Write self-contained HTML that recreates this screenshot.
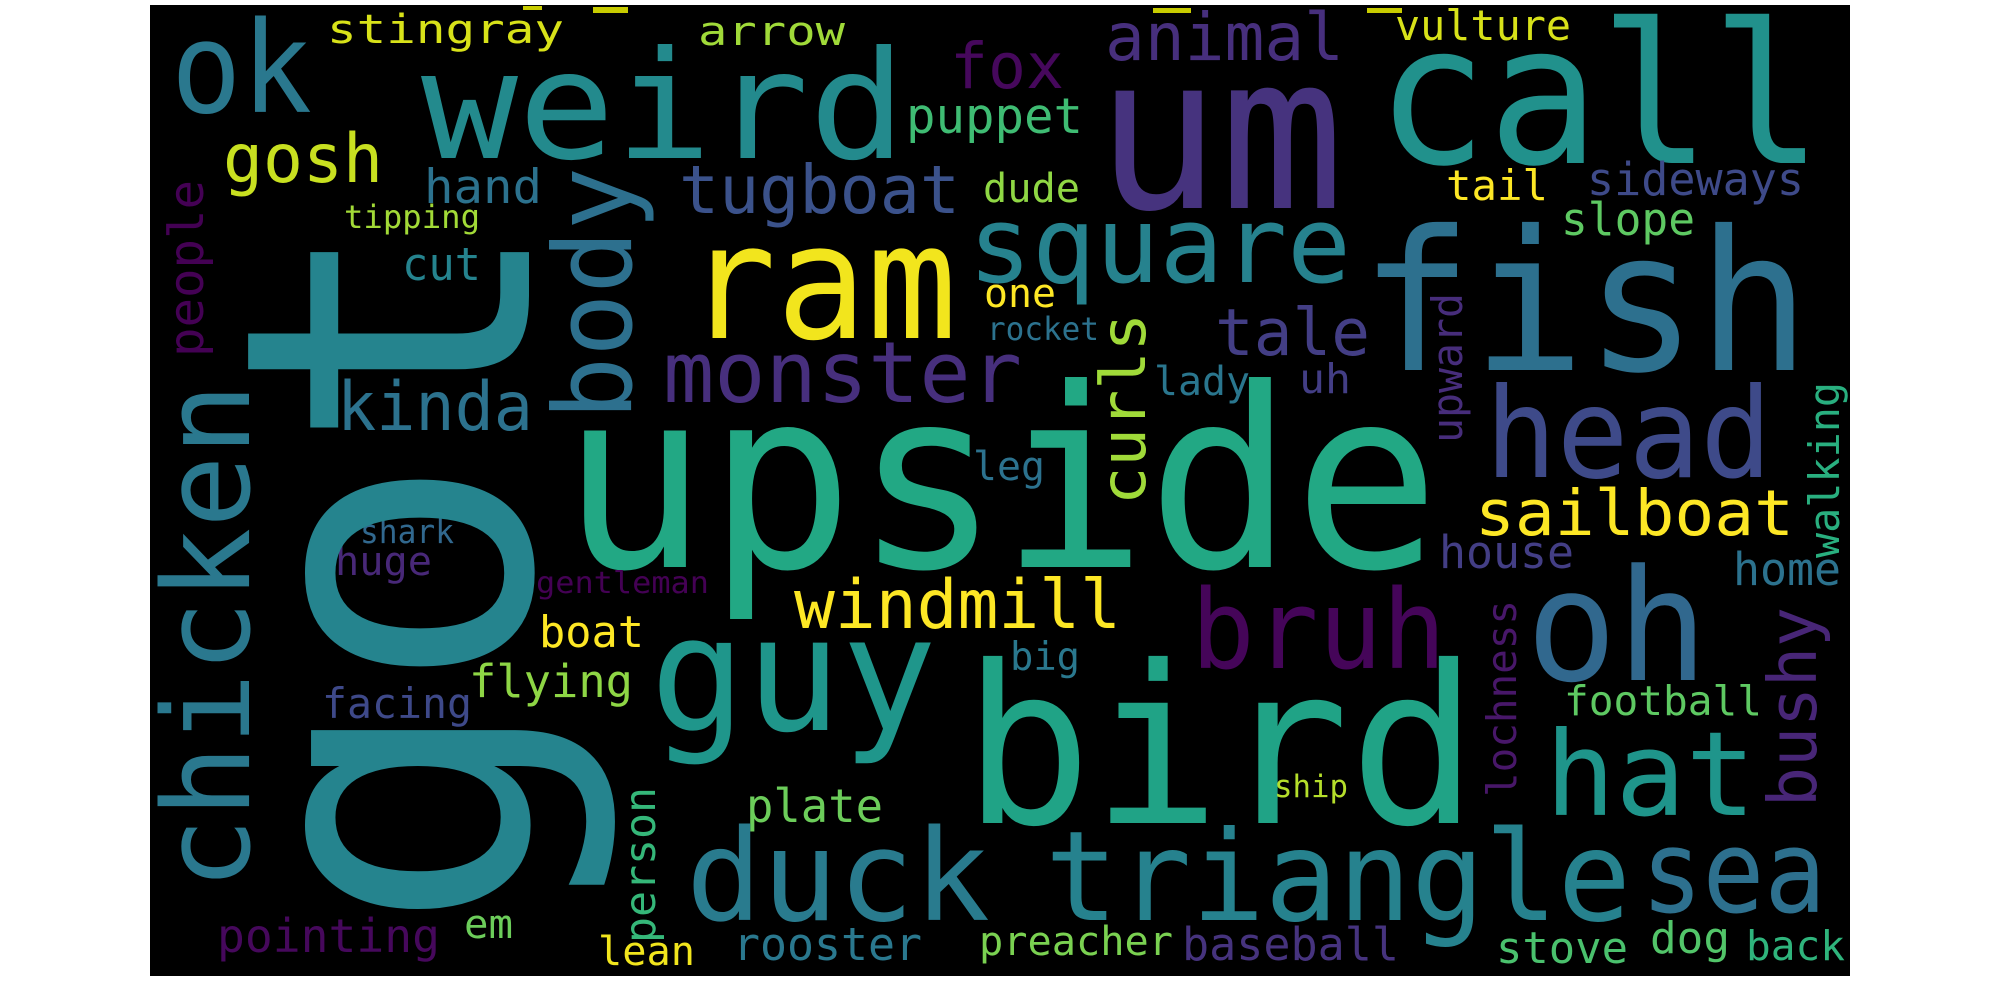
<!DOCTYPE html>
<html><head><meta charset="utf-8"><title>Word cloud</title>
<style>
html,body{margin:0;padding:0;background:#fff;width:2000px;height:1000px;overflow:hidden;}
svg{display:block;}
text{font-family:"DejaVu Sans Mono","Liberation Mono",monospace;}
</style></head>
<body>
<svg id="cloud" width="2000" height="1000" viewBox="0 0 2000 1000" xmlns="http://www.w3.org/2000/svg">
<defs><clipPath id="clip"><rect x="150" y="5" width="1700" height="971"/></clipPath></defs>
<rect x="150" y="5" width="1700" height="971" fill="#000"/>
<g id="words" clip-path="url(#clip)">
<rect x="523" y="6" width="19" height="4" fill="#c8cc00"/>
<rect x="593" y="7" width="35" height="6" fill="#c8cc00"/>
<rect x="1153" y="8" width="38" height="5" fill="#c8cc00"/>
<rect x="1367" y="8" width="35" height="5" fill="#c8cc00"/>
</g>
</svg>
<script>
// horizontal words: text, left x, baseline y, font size, box width, colour
const words = ["ok","weird","stingray","arrow","fox","puppet","gosh","hand","tugboat","tipping","cut","ram","kinda","monster","upside","guy","bird","windmill","gentleman","shark","huge","boat","flying","facing","plate","duck","triangle","sea","pointing","em","lean","rooster","preacher","baseball","stove","dog","back","ship","football","hat","oh","bruh","big","sailboat","house","home","leg","head","uh","lady","rocket","tale","one","square","fish","um","call","animal","vulture","tail","sideways","slope","dude"];
const wx = [171,421,327,698,950,906,223,424,679,344,402,686,337,663,561,650,963,794,536,360,335,539,469,322,746,686,1045,1641,217,464,598,733,979,1182,1496,1650,1746,1274,1564,1545,1526,1191,1010,1475,1439,1733,973,1485,1299,1154,987,1215,984,968,1360,1096,1376,1105,1395,1446,1587,1561,983];
const wy = [112,158,43,45,88,133,182,203,213,228,280,338,430,402,567,730,823,628,593,543,575,647,697,718,822,920,920,912,952,938,965,960,955,960,963,953,960,797,715,815,680,668,670,535,568,585,480,477,393,395,340,355,307,282,370,208,163,60,40,200,195,235,202];
const wsize = [127,150,40,40,63,49,68,47,67,32,45,160,68,85,250,160,220,68,30,33,40,44,45,42,46,127,125,115,46,40,40,45,40,45,44,44,41,31,41,117,155,110,39,63,45,45,40,125,41,40,32,65,40,106,195,215,195,66,42,42,45,45,40];
const wwidth = [141,485,237,147,114,177,160,118,281,136,79,271,196,359,879,287,515,327,173,94,97,105,164,150,137,304,586,185,223,49,97,189,194,217,132,80,99,74,198,211,182,255,70,319,135,108,72,287,52,96,112,155,72,383,450,248,447,239,176,102,217,134,97];
const wcolor = ["#2a788e","#238a8d","#d8e219","#a0da39","#46085c","#3fbc73","#c8e020","#2c728e","#3b528b","#a2da37","#25838e","#f2e51d","#2c728e","#472f7d","#22a884","#1f968b","#20a386","#fde725","#440154","#31688e","#482878","#fde725","#8ed645","#3e4989","#6ccd5a","#297b8e","#26828e","#2d708e","#46085c","#6ccd5a","#f1e51d","#2a788e","#7ad151","#46337e","#4ac16d","#52c569","#2fb47c","#b5de2b","#5ec962","#1f958b","#31688e","#450559","#2a788e","#fde725","#433e85","#2c728e","#2c728e","#3e4a89","#433e85","#2a768e","#2c728e","#433e85","#fde725","#26828e","#2d708e","#46337e","#21918c","#472f7d","#d8e219","#fde725","#3e4a89","#5ec962","#8fd744"];

// vertical words (read bottom to top): text, baseline x, top y, bottom y, font size, colour
const vwords = ["got","body","people","chicken","person","lochness","bushy","walking","upward","curls"];
const vbase = [529,631,203,249,655,1516,1816,1839,1462,1145];
const vtop = [213,167,180,383,787,600,607,382,293,313];
const vbottom = [933,420,357,890,943,797,807,558,443,505];
const vsize = [400,108,48,120,43,41,67,42,42,62];
const vcolor = ["#25848e","#2d708e","#440154","#2a788e","#35b779","#481769","#482677","#29af7f","#472d7b","#a0da39"];

const NS = "http://www.w3.org/2000/svg";
const g = document.getElementById("words");
for (let i = 0; i < words.length; i++) {
  const t = document.createElementNS(NS, "text");
  t.setAttribute("x", wx[i]);
  t.setAttribute("y", wy[i]);
  t.setAttribute("font-size", wsize[i]);
  t.setAttribute("fill", wcolor[i]);
  t.setAttribute("textLength", wwidth[i]);
  t.setAttribute("lengthAdjust", "spacingAndGlyphs");
  
  
  t.textContent = words[i];
  g.appendChild(t);
}
for (let i = 0; i < vwords.length; i++) {
  const t = document.createElementNS(NS, "text");
  t.setAttribute("x", 0);
  t.setAttribute("y", 0);
  t.setAttribute("font-size", vsize[i]);
  t.setAttribute("fill", vcolor[i]);
  t.setAttribute("textLength", vbottom[i] - vtop[i]);
  t.setAttribute("lengthAdjust", "spacingAndGlyphs");
  t.setAttribute("transform", "translate(" + vbase[i] + "," + vbottom[i] + ") rotate(-90)");
  
  
  t.textContent = vwords[i];
  g.appendChild(t);
}
</script>
</body></html>
